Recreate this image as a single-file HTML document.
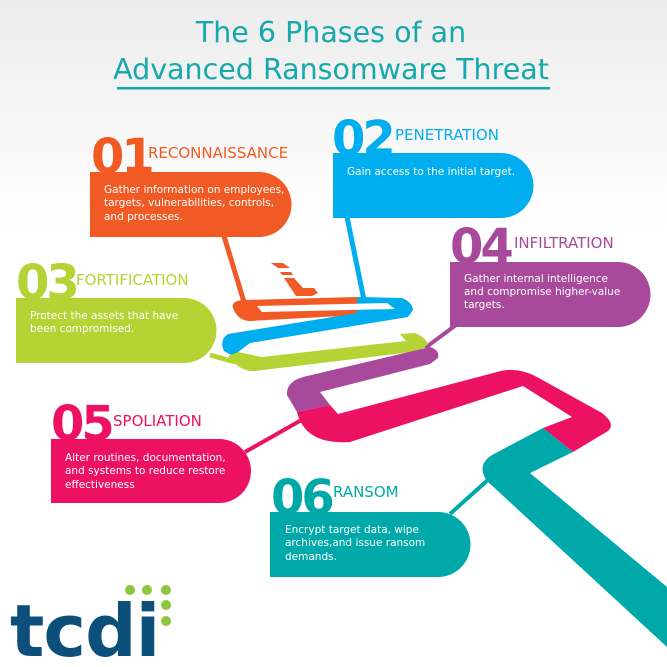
<!DOCTYPE html>
<html><head><meta charset="utf-8"><style>
html,body{margin:0;padding:0;width:667px;height:667px;overflow:hidden;background:#fff}
svg{display:block}
text{font-family:"DejaVu Sans","Liberation Sans",sans-serif}
.n{font-weight:bold;font-size:48px;letter-spacing:-3px}
.h{font-size:15px}
.t{font-size:10.5px;fill:#fff}
</style></head><body>
<svg width="667" height="667" viewBox="0 0 667 667">
<defs><linearGradient id="bg" x1="0" y1="0" x2="0" y2="1"><stop offset="0" stop-color="#ececec"/><stop offset="1" stop-color="#ffffff"/></linearGradient></defs>
<rect x="0" y="0" width="667" height="230" fill="url(#bg)"/>
<text x="331" y="42" text-anchor="middle" font-size="28.5" fill="#16a8ad">The 6 Phases of an</text>
<text x="331" y="79" text-anchor="middle" font-size="28.5" fill="#16a8ad">Advanced Ransomware Threat</text>
<rect x="117" y="87" width="433" height="2.5" fill="#16a8ad"/>

<!-- connectors -->
<line x1="224" y1="236" x2="244" y2="302" stroke="#f15a24" stroke-width="5"/>
<line x1="347" y1="217" x2="364" y2="300" stroke="#00aeef" stroke-width="5"/>
<line x1="210" y1="355" x2="235" y2="362" stroke="#b5d334" stroke-width="5"/>
<line x1="456" y1="325" x2="425" y2="348" stroke="#a8499c" stroke-width="4"/>
<line x1="245" y1="452" x2="305" y2="418" stroke="#ec1163" stroke-width="4"/>
<line x1="450" y1="514" x2="490" y2="478" stroke="#00a9a9" stroke-width="4"/>

<!-- i icon -->
<polygon points="271,263 283,263 290,268 278,268" fill="#f15a24"/>
<polygon points="280,272 291,272 293,275 282,275" fill="#f15a24"/>
<polygon points="284,278 294,278 303,288 314,288 318,293 312,296 296,296" fill="#f15a24"/>

<!-- zigzag -->
<path fill="#f15a24" d="M233,308 Q231,301 243,300 L357,297 L360,315 L250,321 Q238,321 233,308 Z"/>
<path fill="#00aeef" d="M357,297 L402,298 Q412,302 413,310 L408,317 L250,343 L233,356 L224,351 Q219,340 228,334 L357,313 Z"/>
<path fill="#b5d334" d="M228,356 L238,352 L262,357 L404,341 L398,334 L415,333 Q426,338 428,344 L420,351 L255,371 Q240,372 228,356 Z"/>
<polygon points="257,306 387,303 395,309 262,312" fill="#fff"/>
<polygon points="255,349 399,333 406,341 262,356" fill="#fff"/>
<path fill="#ec1163" d="M297,412 L330,405 L338,414 L497,372 Q517,366 537,377 L602,413 Q616,424 608,431 L573,452 L543,428 L572,417 L523,386 L350,442 Q305,445 297,412 Z"/>
<path fill="#a8499c" d="M297,412 L287,395 Q286,382 303,377 L430,347 Q440,350 438,358 L430,364 L320,392 L330,405 Z"/>
<path fill="#00a9a9" d="M543,428 L573,452 L530,473 L667,587 L667,647 L487,481 Q476,465 492,455 Z"/>

<!-- boxes -->
<path d="M90,172 H259 A32,32 0 0 1 259,237 H90 Z" fill="#f15a24"/>
<path d="M333,153 H501 A32,32 0 0 1 501,218 H333 Z" fill="#00aeef"/>
<path d="M16,298 H184 A32,32 0 0 1 184,363 H16 Z" fill="#b5d334"/>
<path d="M450,262 H618 A32,32 0 0 1 618,327 H450 Z" fill="#a8499c"/>
<path d="M51,439 H219 A32,32 0 0 1 219,503 H51 Z" fill="#ec1163"/>
<path d="M270,512 H438 A32,32 0 0 1 438,577 H270 Z" fill="#00a9a9"/>

<text x="91" y="173" class="n" fill="#f15a24">01</text>
<text x="148" y="158" class="h" fill="#f15a24">RECONNAISSANCE</text>
<text x="104" y="193" class="t">Gather information on employees,</text>
<text x="104" y="206" class="t">targets, vulnerabilities, controls,</text>
<text x="104" y="220" class="t">and processes.</text>

<text x="332" y="155" class="n" fill="#00aeef">02</text>
<text x="395" y="140" class="h" fill="#00aeef">PENETRATION</text>
<text x="347" y="175" class="t">Gain access to the initial target.</text>

<text x="16" y="299" class="n" fill="#b5d334">03</text>
<text x="76" y="285" class="h" fill="#b5d334">FORTIFICATION</text>
<text x="30" y="319" class="t">Protect the assets that have</text>
<text x="30" y="332" class="t">been compromised.</text>

<text x="450" y="263" class="n" fill="#a8499c">04</text>
<text x="514" y="248" class="h" fill="#a8499c">INFILTRATION</text>
<text x="464" y="282" class="t">Gather internal intelligence</text>
<text x="464" y="295" class="t">and compromise higher-value</text>
<text x="464" y="308" class="t">targets.</text>

<text x="51" y="440" class="n" fill="#ec1163">05</text>
<text x="113" y="426" class="h" fill="#ec1163">SPOLIATION</text>
<text x="65" y="461" class="t">Alter routines, documentation,</text>
<text x="65" y="474" class="t">and systems to reduce restore</text>
<text x="65" y="488" class="t">effectiveness</text>

<text x="271" y="514" class="n" fill="#00a9a9">06</text>
<text x="333" y="497" class="h" fill="#00a9a9">RANSOM</text>
<text x="285" y="533" class="t">Encrypt target data, wipe</text>
<text x="285" y="546" class="t">archives,and issue ransom</text>
<text x="285" y="560" class="t">demands.</text>

<!-- logo -->
<text x="10" y="656" font-family="Liberation Sans,sans-serif" font-weight="bold" font-size="72" fill="#0b4f7a" letter-spacing="-1">tcdi</text>
<circle cx="130" cy="590" r="5" fill="#8dc63f"/>
<circle cx="147" cy="590" r="5" fill="#8dc63f"/>
<circle cx="166" cy="590" r="5" fill="#8dc63f"/>
<circle cx="166" cy="605" r="5" fill="#8dc63f"/>
<circle cx="166" cy="621" r="5" fill="#8dc63f"/>
</svg>
</body></html>
